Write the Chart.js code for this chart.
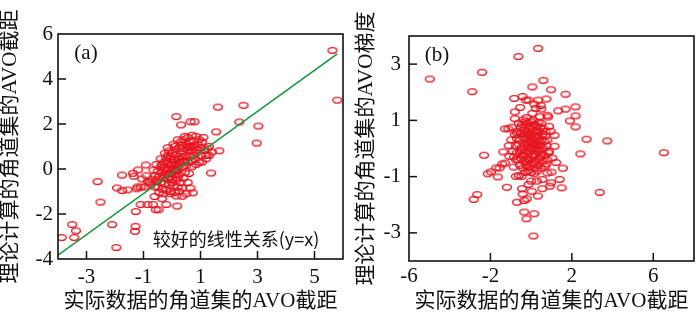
<!DOCTYPE html>
<html>
<head>
<meta charset="utf-8">
<script src="https://cdn.jsdelivr.net/npm/chart.js@4"></script>
<style>
  body { margin: 0; background: #fff; }
  #wrap { position: relative; width: 700px; height: 317px; }
  .panel { position: absolute; top: 0; width: 350px; height: 317px; }
</style>
</head>
<body>
<div id="wrap">
  <div class="panel" style="left:0"><canvas id="chartA" width="350" height="317"></canvas></div>
  <div class="panel" style="left:350px"><canvas id="chartB" width="350" height="317"></canvas></div>
</div>
<script>
// ---- panel (a): intercept, real vs theory ----
const ticksAX = [-3, -1, 1, 3, 5];
const ticksAY = [-4, -2, 0, 2, 4, 6];
const fitLineA = [[-4, -3.83], [5.8, 5.12]];
const outliersA = [
  [5.63, 5.27], [5.8, 3.06], [1.61, 2.75], [2.51, 2.83], [0.15, 2.33], [0.32, 1.96], [0.65, 2.1], [0.79, 2.1],
  [2.36, 2.09], [3.03, 1.91], [1.55, 1.65], [2.97, 1.15], [1.66, 0.81], [1.37, -0.18], [1.3, 0.6], [1.4, 0.75],
  [1.2, 0.45], [0.73, -1.06], [0.36, -1.21], [0.18, -1.65], [-0.2, -1.58], [-0.35, -1.32], [-0.05, -1.1],
  [-0.61, -1.22], [-0.57, -1.81], [-0.47, -1.81], [-0.67, -1.58], [-0.86, -1.58], [-1.1, -1.58], [-1.27, -1.89],
  [-1.28, -2.55], [-1.3, -2.77], [-1.95, -3.49], [-2.1, -2.47], [-2.51, -1.47], [-2.61, -0.56], [-3.87, -3.05],
  [-3.5, -2.47], [-3.37, -2.75], [-3.43, -3.05], [-1.93, -0.84], [-1.75, -0.96], [-1.56, -0.93], [-1.75, -0.27],
  [-1.37, -0.19], [-1.34, -0.32], [-1.21, -0.8], [-1.1, -0.8], [-0.96, -0.8], [-1.05, -0.44], [-0.92, 0.18],
  [-1.19, -0.04], [-1.24, -0.88], [-0.78, -0.59]
];
const clusterA = [
  [0.45, 1.45], [0.55, 1.4], [0.7, 1.5], [0.85, 1.45], [0.95, 1.3], [1.05, 1.2], [0.6, 1.2], [0.75, 1.25],
  [0.9, 1.1], [0.5, 1.1], [0.65, 1.0], [0.8, 0.95], [1.0, 0.95], [1.15, 0.85], [0.4, 0.9], [0.55, 0.85],
  [0.7, 0.8], [0.85, 0.7], [1.0, 0.6], [1.2, 0.6], [0.35, 0.7], [0.5, 0.6], [0.65, 0.55], [0.8, 0.45],
  [0.95, 0.3], [1.25, 0.9], [1.3, 1.0], [1.1, 1.4], [0.3, 1.2], [0.2, 1.3], [0.1, 1.0], [0.25, 0.95],
  [-0.1, 0.8], [0.0, 0.7], [0.15, 0.65], [-0.2, 0.5], [-0.05, 0.45], [0.1, 0.4], [0.25, 0.45], [-0.3, 0.3],
  [-0.15, 0.25], [0.0, 0.2], [0.15, 0.2], [0.3, 0.25], [-0.4, 0.1], [-0.25, 0.05], [-0.1, 0.0], [0.05, 0.0],
  [0.2, -0.05], [0.35, 0.05], [-0.5, -0.1], [-0.35, -0.15], [-0.2, -0.2], [-0.05, -0.2], [0.1, -0.25],
  [0.25, -0.25], [-0.45, -0.35], [-0.3, -0.4], [-0.15, -0.45], [0.0, -0.45], [0.15, -0.5], [-0.55, -0.55],
  [-0.4, -0.6], [-0.25, -0.65], [-0.1, -0.7], [0.05, -0.75], [0.2, -0.8], [-0.5, -0.8], [-0.35, -0.9],
  [-0.2, -0.95], [-0.05, -1.0], [0.1, -1.05], [-0.6, -0.3], [-0.65, -0.05], [-0.55, 0.2], [-0.4, 0.45],
  [-0.25, 0.7], [0.3, -0.6], [0.4, -0.4], [0.45, -0.15], [0.5, 0.15], [0.45, 0.35], [-0.05, 0.55],
  [-0.15, 0.95], [0.05, 1.1], [0.3, 0.55], [0.35, -0.85], [-0.7, -0.45], [-0.75, -0.7], [-0.3, -1.1],
  [0.25, -1.0], [0.55, -0.6], [0.6, -0.2], [0.7, 0.1], [0.85, 0.2], [1.05, 0.3], [-0.45, -1.05],
  [-0.15, 0.6], [0.05, 0.3], [-0.3, -0.05], [0.15, -0.1], [-0.1, -0.35], [0.2, 0.1], [-0.2, 0.35],
  [0.35, 0.35], [0.1, 0.85], [0.6, 0.95], [0.75, 1.05], [0.4, 1.3], [0.55, 0.3], [0.7, 0.35], [-0.6, -0.8],
  [-0.85, -0.55], [-0.9, -0.3], [0.15, -1.2], [0.5, -1.1], [0.65, -0.85],
  [-0.05, 0.15], [0.1, -0.1], [-0.2, -0.05], [0.25, 0.3], [0.4, 0.55], [0.55, 1.0], [0.35, 1.05],
  [-0.35, 0.2], [-0.5, -0.45], [0.0, -0.6], [0.2, -0.4], [-0.25, -0.3], [0.9, 0.85], [0.75, 0.6]
];

// ---- panel (b): gradient vs intercept ----
const ticksBX = [-6, -2, 2, 6];
const ticksBY = [-3, -1, 1, 3];
const outliersB = [
  [-4.98, 2.47], [-2.41, 2.71], [-2.89, 2.02], [-0.63, 3.27], [0.34, 3.56], [0.6, 2.42], [0.06, 2.19],
  [0.98, 2.09], [1.69, 1.93], [0.75, 1.76], [2.18, 1.48], [1.69, 1.4], [1.33, 1.34], [2.18, 1.16], [1.9, 0.98],
  [2.18, 0.77], [2.72, 0.33], [3.74, 0.27], [6.52, -0.15], [2.42, -0.19], [3.37, -1.56], [1.5, -1.4],
  [1.4, -1.1], [1.23, -0.5], [1.56, -0.7], [1.0, -0.84], [0.98, -1.22], [0.92, -1.34], [-2.31, -0.24],
  [-2.65, -1.64], [-2.82, -1.81], [-2.13, -0.9], [-1.97, -0.83], [-1.64, -1.01], [-1.72, -0.69], [-1.55, -0.69],
  [-1.42, -0.55], [-1.28, -0.52], [-1.19, -1.38], [-1.37, -0.12], [-1.28, 0.7], [-1.12, 0.7], [-0.96, 0.76],
  [-0.8, 1.06], [-0.8, 1.3], [-0.83, 1.78], [-0.42, 1.85], [-0.26, 1.72], [-0.13, 1.72], [-0.54, 1.46],
  [0.15, 1.58], [0.34, 1.72], [0.47, 1.53], [0.5, 1.4], [0.8, 1.18], [0.83, 1.12], [-0.37, 1.02],
  [-0.23, 1.1], [0.36, 0.93], [0.43, 1.13], [0.06, 1.25], [0.23, 1.43],
  [0.11, -3.11], [-0.34, -2.26], [0.15, -2.32], [-0.23, -2.5], [-0.7, -1.91], [-0.34, -1.85], [-0.21, -1.79],
  [-0.42, -1.62], [-0.45, -1.43], [0.03, -1.52], [0.33, -1.69], [0.55, -1.43], [-0.13, -1.28], [0.0, -1.16],
  [0.28, -1.16], [0.55, -1.1], [-0.47, -0.99], [-0.6, -0.96], [-0.75, -0.99], [-0.86, -0.66], [0.8, -0.87],
  [0.68, -0.63], [-1.1, 0.1], [-0.98, 0.31], [-1.07, -0.28], [-0.9, -0.1], [-0.75, -0.4], [-0.7, 0.55],
  [0.88, 0.79], [0.96, 0.61], [1.15, 0.47], [1.15, 0.08], [0.88, -0.1], [0.8, -0.4], [1.04, -0.34]
];
const clusterB = [
  [-0.6, 0.9], [-0.45, 0.85], [-0.3, 0.95], [-0.15, 0.9], [0.0, 0.95], [0.15, 0.85], [0.3, 0.8], [0.45, 0.75],
  [0.6, 0.7], [-0.65, 0.6], [-0.5, 0.55], [-0.35, 0.65], [-0.2, 0.6], [-0.05, 0.7], [0.1, 0.6], [0.25, 0.55],
  [0.4, 0.6], [0.55, 0.5], [0.7, 0.45], [-0.7, 0.35], [-0.55, 0.3], [-0.4, 0.4], [-0.25, 0.35], [-0.1, 0.45],
  [0.05, 0.35], [0.2, 0.3], [0.35, 0.4], [0.5, 0.3], [0.65, 0.25], [0.8, 0.3], [-0.75, 0.1], [-0.6, 0.15],
  [-0.45, 0.05], [-0.3, 0.15], [-0.15, 0.1], [0.0, 0.2], [0.15, 0.05], [0.3, 0.15], [0.45, 0.1], [0.6, 0.0],
  [0.75, 0.1], [-0.7, -0.15], [-0.55, -0.1], [-0.4, -0.2], [-0.25, -0.1], [-0.1, -0.15], [0.05, -0.05],
  [0.2, -0.2], [0.35, -0.1], [0.5, -0.2], [0.65, -0.25], [-0.65, -0.4], [-0.5, -0.35], [-0.35, -0.45],
  [-0.2, -0.35], [-0.05, -0.4], [0.1, -0.3], [0.25, -0.45], [0.4, -0.35], [0.55, -0.45], [-0.55, -0.6],
  [-0.4, -0.7], [-0.25, -0.6], [-0.1, -0.65], [0.05, -0.55], [0.2, -0.7], [0.35, -0.6], [0.5, -0.7],
  [-0.3, -0.85], [-0.15, -0.8], [0.0, -0.85], [0.15, -0.9], [0.3, -0.8], [-0.2, 0.2], [0.1, 0.15],
  [-0.05, 0.0], [0.25, 0.0], [-0.35, -0.25], [0.4, -0.05], [0.0, 0.5], [-0.15, 0.55], [0.2, 0.45],
  [0.3, 0.65], [-0.25, 0.8], [0.1, 1.0], [-0.5, 0.75], [0.5, 0.9], [0.7, 0.6], [-0.8, 0.5], [-0.85, -0.3],
  [0.75, -0.55], [0.85, -0.15],
  [-0.1, 0.25], [0.2, 0.1], [0.05, -0.25], [-0.3, 0.5], [0.35, 0.25], [-0.45, -0.05], [0.15, -0.55],
  [-0.2, -0.5], [0.45, -0.3], [0.0, 0.8]
];

const RED = '#e6141f';
const GREEN = '#14983c';
const CJK = "'Liberation Serif', 'Noto Sans CJK SC', serif";

// small open ellipse used as the marker
function makeMarker() {
  const c = document.createElement('canvas');
  c.width = 12; c.height = 9;
  const g = c.getContext('2d');
  g.strokeStyle = RED;
  g.lineWidth = 1.4;
  g.beginPath();
  g.ellipse(6, 4.5, 4.4, 2.9, 0, 0, Math.PI * 2);
  g.stroke();
  return c;
}
const marker = makeMarker();

const toXY = arr => arr.map(p => ({ x: p[0], y: p[1] }));

// frame, inward ticks and panel labels
const framePlugin = {
  id: 'frame',
  afterDatasetsDraw(chart, args, opts) {
    const { ctx, chartArea: a } = chart;
    ctx.save();
    ctx.strokeStyle = '#111';
    ctx.lineWidth = 1.6;
    ctx.strokeRect(a.left, a.top, a.right - a.left, a.bottom - a.top);
    ctx.lineWidth = 1.5;
    const xs = chart.scales.x, ys = chart.scales.y;
    xs.ticks.forEach((t, i) => {
      const p = xs.getPixelForTick(i);
      if (p < a.left + 2 || p > a.right - 2) return;
      ctx.beginPath(); ctx.moveTo(p, a.bottom); ctx.lineTo(p, a.bottom - 8); ctx.stroke();
    });
    ys.ticks.forEach((t, i) => {
      const p = ys.getPixelForTick(i);
      if (p < a.top + 2 || p > a.bottom - 2) return;
      ctx.beginPath(); ctx.moveTo(a.left, p); ctx.lineTo(a.left + 8, p); ctx.stroke();
    });
    ctx.fillStyle = '#111';
    ctx.textBaseline = 'middle';
    ctx.textAlign = 'center';
    ctx.font = "21px 'Liberation Serif'";
    ctx.fillText(opts.tag, a.left + 28, a.top + 19);
    if (opts.note) {
      ctx.font = "18px 'Noto Sans CJK SC'";
      ctx.fillText(opts.note, a.left + 178, a.bottom - 20);
    }
    ctx.restore();
  }
};

function makeOptions(cfg) {
  return {
    responsive: false,
    animation: false,
    events: [],
    layout: { padding: { top: cfg.top, right: cfg.right, left: 0, bottom: 0 } },
    plugins: { legend: { display: false }, tooltip: { enabled: false }, frame: { tag: cfg.tag, note: cfg.note } },
    scales: {
      x: {
        type: 'linear', min: cfg.xMin, max: cfg.xMax,
        afterBuildTicks: s => { s.ticks = cfg.xTicks.map(v => ({ value: v })); },
        afterFit: s => { s.height = cfg.xHeight; },
        grid: { display: false, drawTicks: false },
        border: { display: false },
        ticks: { autoSkip: false, maxRotation: 0, padding: cfg.xPad, color: '#111',
                 font: { family: 'Liberation Serif', size: 21 } },
        title: { display: true, text: '实际数据的角道集的AVO截距', color: '#111',
                 font: { family: CJK, size: 21, lineHeight: 1 }, padding: { top: 0, bottom: 5 } }
      },
      y: {
        type: 'linear', min: cfg.yMin, max: cfg.yMax,
        afterBuildTicks: s => { s.ticks = cfg.yTicks.map(v => ({ value: v })); },
        afterFit: s => { s.width = cfg.yWidth; },
        grid: { display: false, drawTicks: false },
        border: { display: false },
        ticks: { autoSkip: false, padding: cfg.yPad, color: '#111',
                 font: { family: 'Liberation Serif', size: 21 } },
        title: { display: true, text: cfg.yTitle, color: '#111',
                 font: { family: CJK, size: 21, lineHeight: 1 }, padding: { top: cfg.yTitlePad, bottom: 0 } }
      }
    }
  };
}

new Chart(document.getElementById('chartA'), {
  type: 'scatter',
  data: {
    datasets: [
      { data: toXY(fitLineA), showLine: true, borderColor: GREEN, borderWidth: 1.6, pointRadius: 0 },
      { data: toXY(outliersA.concat(clusterA)), pointStyle: marker }
    ]
  },
  options: makeOptions({
    top: 34, right: 7, xHeight: 58, yWidth: 58, xPad: 6, yPad: 5, yTitlePad: 0,
    xMin: -4, xMax: 6, yMin: -4, yMax: 6, xTicks: ticksAX, yTicks: ticksAY,
    yTitle: '理论计算的角道集的AVO截距', tag: '(a)', note: '较好的线性关系(y=x)'
  }),
  plugins: [framePlugin]
});

new Chart(document.getElementById('chartB'), {
  type: 'scatter',
  data: {
    datasets: [
      { data: toXY(outliersB.concat(clusterB)), pointStyle: marker }
    ]
  },
  options: makeOptions({
    top: 36, right: 6, xHeight: 56, yWidth: 59, xPad: 3, yPad: 8, yTitlePad: 6,
    xMin: -6, xMax: 8, yMin: -4, yMax: 4, xTicks: ticksBX, yTicks: ticksBY,
    yTitle: '理论计算的角道集的AVO梯度', tag: '(b)', note: ''
  }),
  plugins: [framePlugin]
});
</script>
</body>
</html>
